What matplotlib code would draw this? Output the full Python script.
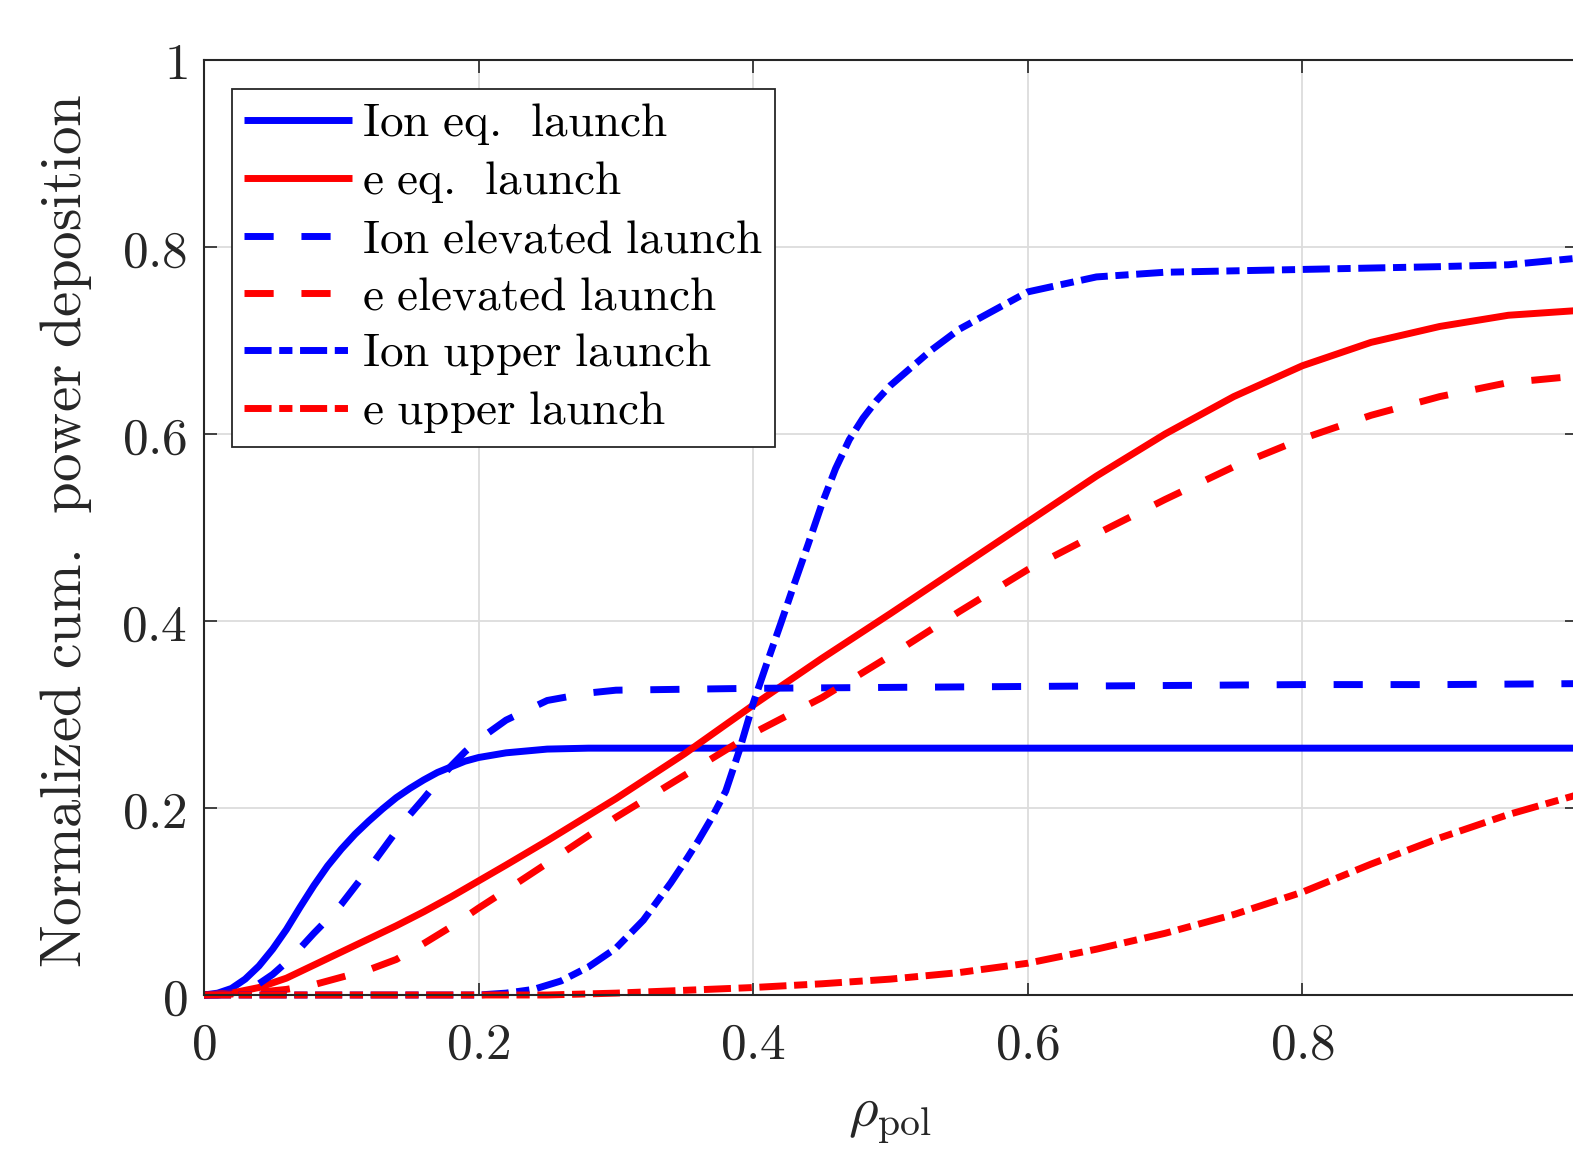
import numpy as np
import matplotlib
matplotlib.use("Agg")
import matplotlib.pyplot as plt

# --- Datos ---
rho = [0.0, 0.02, 0.04, 0.06, 0.08, 0.10, 0.12, 0.14, 0.16, 0.18, 0.20, 0.22,
       0.25, 0.30, 0.35, 0.40, 0.45, 0.50, 0.55, 0.60, 0.65, 0.70, 0.75, 0.80,
       0.85, 0.90, 0.95, 1.00]

# curvas de iones con mas puntos cerca del centro
rho_ion = [0.0, 0.01, 0.02, 0.03, 0.04, 0.05, 0.06, 0.07, 0.08, 0.09, 0.10, 0.11,
           0.12, 0.13, 0.14, 0.15, 0.16, 0.17, 0.18, 0.19, 0.20, 0.22, 0.25, 0.28,
           0.30, 0.40, 0.50, 0.60, 0.70, 0.80, 0.90, 1.00]

ion_eq = [0.0, 0.002, 0.007, 0.017, 0.031, 0.049, 0.07, 0.094, 0.117, 0.138, 0.156, 0.172,
          0.186, 0.199, 0.211, 0.221, 0.23, 0.238, 0.244, 0.25, 0.254, 0.259, 0.263, 0.264,
          0.264, 0.264, 0.264, 0.264, 0.264, 0.264, 0.264, 0.264]

ion_elev = [0.0, 0.0, 0.002, 0.006, 0.012, 0.022, 0.035, 0.05, 0.066, 0.081, 0.097, 0.116,
            0.135, 0.155, 0.175, 0.193, 0.21, 0.228, 0.245, 0.26, 0.273, 0.294, 0.315, 0.323,
            0.326, 0.328, 0.329, 0.33, 0.331, 0.332, 0.332, 0.333]

e_eq = [0.0, 0.002, 0.008, 0.018, 0.032, 0.046, 0.06, 0.074, 0.089, 0.105, 0.122, 0.139,
        0.165, 0.21, 0.258, 0.31, 0.36, 0.408, 0.457, 0.506, 0.555, 0.6, 0.64, 0.673,
        0.698, 0.715, 0.727, 0.732]

e_elev = [0.0, 0.001, 0.003, 0.006, 0.011, 0.019, 0.027, 0.038, 0.055, 0.073, 0.093, 0.112,
          0.141, 0.19, 0.235, 0.28, 0.318, 0.363, 0.41, 0.455, 0.493, 0.53, 0.565, 0.595,
          0.62, 0.64, 0.655, 0.662]

# Ion upper launch: subida brusca alrededor de rho = 0.4
rho_up = [0.0, 0.10, 0.20, 0.22, 0.24, 0.26, 0.28, 0.30, 0.32, 0.34, 0.35, 0.36, 0.37,
          0.38, 0.39, 0.40, 0.41, 0.42, 0.43, 0.44, 0.45, 0.46, 0.47, 0.48, 0.49, 0.50,
          0.53, 0.55, 0.60, 0.65, 0.70, 0.80, 0.90, 0.95, 1.00]
ion_up = [0.0, 0.0, 0.0, 0.002, 0.006, 0.015, 0.03, 0.05, 0.08, 0.12, 0.142, 0.165, 0.19,
          0.218, 0.262, 0.312, 0.355, 0.397, 0.44, 0.482, 0.525, 0.563, 0.594, 0.617, 0.636,
          0.652, 0.69, 0.712, 0.752, 0.768, 0.773, 0.776, 0.779, 0.781, 0.788]

e_up = [0.0, 0.0, 0.0, 0.0, 0.0, 0.0, 0.0, 0.0, 0.0, 0.0, 0.0, 0.0,
        0.0, 0.002, 0.005, 0.008, 0.012, 0.017, 0.024, 0.034, 0.049, 0.066, 0.086, 0.11,
        0.14, 0.168, 0.193, 0.214]

labels = ['Ion eq. launch', 'e eq. launch', 'Ion elevated launch',
          'e elevated launch', 'Ion upper launch', 'e upper launch']

# --- Estilo ---
plt.rcParams['mathtext.fontset'] = 'cm'
plt.rcParams['font.family'] = 'serif'
plt.rcParams['font.serif'] = ['DejaVu Serif']

EJE = '#262626'
LW = 5
dash = (0, (4.2, 4.0))
dashdot = (0, (3.9, 1.1, 1.9, 1.1))


def mt(s):
    # texto en romana de Computer Modern; tras un punto un espacio algo mayor
    s = s.replace(' ', r'\ ').replace(r'.\ ', r'.\ \,')
    return r'$\mathrm{' + s + '}$'


fig = plt.figure(figsize=(15.73, 11.52), dpi=100)
ax = fig.add_axes([204 / 1573, 1 - 995 / 1152, (1577 - 204) / 1573, (995 - 60) / 1152])

kw = dict(lw=LW, clip_on=False, solid_capstyle='butt', dash_capstyle='butt',
          solid_joinstyle='round')
ax.plot(rho_ion, ion_eq, color='#0000ff', linestyle='-', label=mt(labels[0]), **kw)
ax.plot(rho, e_eq, color='#ff0000', linestyle='-', label=mt(labels[1]), **kw)
ax.plot(rho_ion, ion_elev, color='#0000ff', linestyle=dash, label=mt(labels[2]), **kw)
ax.plot(rho, e_elev, color='#ff0000', linestyle=dash, label=mt(labels[3]), **kw)
ax.plot(rho_up, ion_up, color='#0000ff', linestyle=dashdot, label=mt(labels[4]), **kw)
ax.plot(rho, e_up, color='#ff0000', linestyle=dashdot, label=mt(labels[5]), **kw)

ax.set_xlim(0, 1)
ax.set_ylim(0, 1)
ticks = [0, 0.2, 0.4, 0.6, 0.8, 1]
ax.set_xticks(ticks)
ax.set_yticks(ticks)
# la etiqueta "1" del eje x queda fuera de la imagen en la figura original
ax.set_xticklabels(['$%g$' % t if t < 1 else '' for t in ticks], fontsize=37)
ax.set_yticklabels(['$%g$' % t for t in ticks], fontsize=37)
ax.tick_params(direction='in', length=9, width=1.2, colors=EJE, top=True, right=True)
ax.tick_params(axis='x', pad=18)
ax.tick_params(axis='y', pad=12)
for s in ax.spines.values():
    s.set_color(EJE)
    s.set_linewidth(1.5)
ax.grid(True, color='#dcdcdc', linewidth=1.3)
ax.set_axisbelow(True)

fig.text(66 / 1573, 1 - 531 / 1152, mt('Normalized cum. power deposition'), rotation=90,
         ha='center', va='center', fontsize=41, color=EJE)
fig.text(890 / 1573, 1 - 1118 / 1152, r'$\rho_{\mathrm{pol}}$', ha='center', va='center',
         fontsize=41, color=EJE)

leg = ax.legend(loc='upper left', bbox_to_anchor=(232 / 1573, 1 - 89 / 1152),
                bbox_transform=fig.transFigure, borderaxespad=0, fontsize=34,
                handlelength=2.3, handletextpad=0.2, labelspacing=0.25, borderpad=0.25,
                fancybox=False, framealpha=1, edgecolor=EJE)
leg.get_frame().set_linewidth(1.3)

fig.savefig('out.png', dpi=100)
